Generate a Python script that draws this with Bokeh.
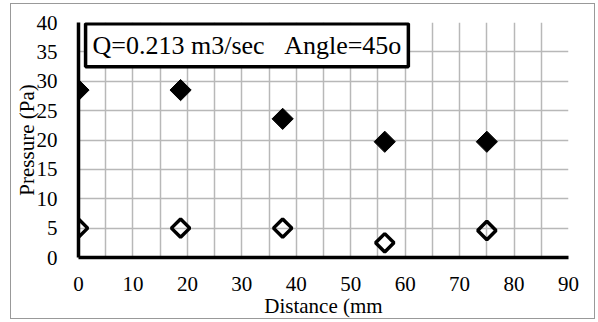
from bokeh.plotting import figure
from bokeh.models import Range1d, SingleIntervalTicker, Label
from bokeh.embed import file_html
from bokeh.resources import INLINE
import math

distance = [0, 18.75, 37.5, 56.25, 75]
pressure_filled = [28.5, 28.5, 23.6, 19.7, 19.7]
pressure_open = [5.0, 5.0, 5.0, 2.5, 4.6]
annotation_text = "Q=0.213 m3/sec\u00a0\u00a0\u00a0Angle=45o"
x_label = "Distance (mm"
y_label = "Pressure (Pa)"

FONT = "Liberation Serif"

p = figure(width=585, height=316, output_backend="svg", toolbar_location=None,
           x_range=Range1d(0, 90), y_range=Range1d(0, 40),
           min_border_left=67, min_border_right=28, min_border_top=18, min_border_bottom=61)
p.margin = (3, 0, 0, 10)
p.styles = {"border": "1.5px solid #999999"}
p.outline_line_color = None
p.background_fill_color = "white"
p.border_fill_color = "white"

for ax in (p.xaxis[0], p.yaxis[0]):
    ax.axis_line_color = "black"
    ax.axis_line_width = 3.5
    ax.major_tick_line_color = None
    ax.minor_tick_line_color = None
    ax.major_tick_out = 0
    ax.major_tick_in = 0
    ax.major_label_text_font = FONT
    ax.major_label_text_font_size = "21px"
    ax.major_label_text_color = "black"
    ax.axis_label_text_font = FONT
    ax.axis_label_text_font_size = "21px"
    ax.axis_label_text_font_style = "normal"
    ax.axis_label_text_color = "black"

p.xaxis[0].ticker = SingleIntervalTicker(interval=10)
p.yaxis[0].ticker = SingleIntervalTicker(interval=5)
p.xaxis[0].axis_label = x_label
p.yaxis[0].axis_label = y_label
p.xaxis[0].major_label_standoff = 15
p.yaxis[0].major_label_standoff = 17
p.xaxis[0].axis_label_standoff = 0
p.yaxis[0].axis_label_standoff = -5

p.xgrid[0].ticker = SingleIntervalTicker(interval=5)
p.ygrid[0].ticker = SingleIntervalTicker(interval=5)
for g in (p.xgrid[0], p.ygrid[0]):
    g.grid_line_color = "#b8b8b8"
    g.grid_line_width = 1.5

p.scatter(distance, pressure_filled, marker="square", angle=math.pi / 4,
          size=15, fill_color="black", line_color="black", line_width=1)
p.scatter(distance, pressure_open, marker="square", angle=math.pi / 4,
          size=13, fill_color=None, line_color="black", line_width=3.5)

lab = Label(x=1.3, y=39.8, text=annotation_text, anchor="top_left",
            text_font=FONT, text_font_size="26px", text_color="black",
            border_line_color="black", border_line_width=3.5,
            background_fill_color="white", padding=(7, 7))
p.add_layout(lab)

open("out.html", "w").write(file_html(p, INLINE))
